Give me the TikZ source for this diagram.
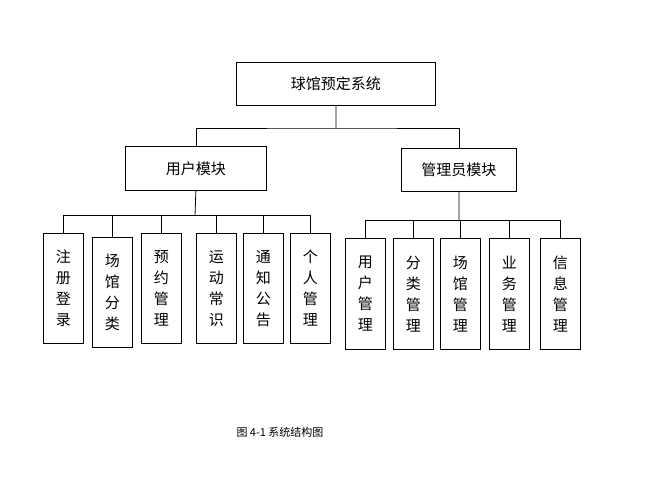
\documentclass[tikz,border=0pt]{standalone}
\usepackage{fontspec}
\newfontfamily\cjk{Noto Sans CJK SC}
\usepackage{tikz}

\tikzset{
  box/.style={draw, line width=0.8pt, anchor=north west, inner sep=0pt, font=\cjk\fontsize{15}{18}\selectfont},
  leaf/.style={box, minimum width=40pt, minimum height=110pt, align=center, font=\cjk\fontsize{15}{21}\selectfont},
  link/.style={line width=0.8pt}
}

\begin{document}
\begin{tikzpicture}[x=1pt,y=-1pt]
\useasboundingbox (0,0) rectangle (651,497);
\node[box, minimum width=199pt, minimum height=43pt] (sys) at (236,62) {球馆预定系统};
\node[box, minimum width=141pt, minimum height=44pt] (user) at (125,146) {用户模块};
\node[box, minimum width=115pt, minimum height=43pt] (admin) at (401,148) {管理员模块};
% user side
\node[leaf] (u1) at (43,233) {注\\册\\登\\录};
\node[leaf] (u2) at (92,237) {场\\馆\\分\\类};
\node[leaf] (u3) at (141,233) {预\\约\\管\\理};
\node[leaf] (u4) at (196,233) {运\\动\\常\\识};
\node[leaf] (u5) at (243,233) {通\\知\\公\\告};
\node[leaf] (u6) at (290,233) {个\\人\\管\\理};
% admin side
\node[leaf, minimum height=111pt] (a1) at (345,238) {用\\户\\管\\理};
\node[leaf, minimum height=111pt] (a2) at (393,238) {分\\类\\管\\理};
\node[leaf, minimum height=111pt] (a3) at (440,238) {场\\馆\\管\\理};
\node[leaf, minimum height=111pt] (a4) at (489,238) {业\\务\\管\\理};
\node[leaf, minimum height=111pt] (a5) at (540,238) {信\\息\\管\\理};
% connectors
\coordinate (bus0) at (336,128);
\draw[link] (sys.south) -- (bus0);
\draw[link] (user.north) |- (bus0) -| (admin.north);
\coordinate (bus1) at (195,215);
\draw[link] (user.south) -- (bus1);
\foreach \n in {u1,u2,u3,u4,u5,u6}
  \draw[link] (bus1) -| (\n.north);
\coordinate (bus2) at (459,220);
\draw[link] (admin.south) -- (bus2);
\foreach \n in {a1,a2,a3,a4,a5}
  \draw[link] (bus2) -| (\n.north);
\node[font=\cjk\fontsize{11}{13}\selectfont] (cap) at (280,432) {图 4-1 系统结构图};
\end{tikzpicture}
\end{document}
